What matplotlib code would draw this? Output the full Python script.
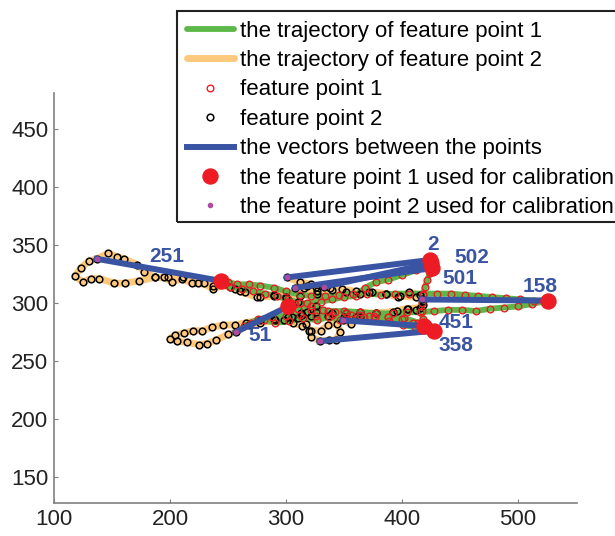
import matplotlib
matplotlib.use("Agg")
import matplotlib.pyplot as plt
from matplotlib.patches import Rectangle

plt.rcParams["font.family"] = ["Liberation Sans", "DejaVu Sans"]

# trajectory of feature point 1 (green line, red circles)
fp1_x = [424, 421, 412, 400, 388, 378, 368, 360, 350, 340, 330, 318, 308, 302,
         310, 322, 336, 350, 364, 378, 392, 404, 416, 428, 440, 452, 464, 476, 488, 500, 512, 526,
         514, 502, 490, 478, 466, 454, 442, 430, 418, 406, 394, 382, 370, 358, 346, 334, 322, 312,
         300, 290, 278, 268, 258, 250, 244,
         252, 262, 272, 282, 292, 302, 312, 322, 332, 342, 352, 364, 376, 388, 400, 410, 420, 428,
         420, 411, 401, 389, 377, 367, 357, 347, 337, 327, 315, 303, 291, 281, 270, 264,
         276, 288, 300, 312, 326, 340, 356, 372, 388, 402, 414, 419,
         418, 417, 417, 418, 420, 422, 424, 426, 425]
fp1_y = [337, 331, 328, 324, 320, 318, 313, 306, 305, 303, 301, 300, 299, 297,
         295, 294, 293, 293, 292, 291, 291, 292, 292, 293, 294, 294, 293, 295, 296, 297, 299, 302,
         302, 303, 304, 305, 306, 307, 308, 308, 308, 308, 308, 307, 308, 308, 307, 306, 306, 307,
         310, 313, 315, 316, 316, 318, 319,
         314, 312, 310, 308, 306, 303, 300, 297, 294, 292, 291, 290, 289, 288, 286, 283, 279, 276,
         278, 279, 281, 284, 287, 288, 286, 285, 288, 285, 287, 284, 283, 285, 283, 280,
         286, 288, 289, 290, 289, 290, 290, 289, 288, 287, 283, 280,
         286, 293, 300, 307, 314, 320, 326, 330, 334]

# trajectory of feature point 2 (orange line, black circles)
fp2_x = [301, 312, 322, 327, 326, 318, 305, 291, 278, 268, 257,
         250, 240, 232, 225, 215, 206, 200, 204, 212, 220, 228, 236, 246, 256, 266, 278, 290, 302,
         314, 326, 340, 352, 364, 378, 392, 404, 412, 418, 417,
         416, 406, 397, 386, 374, 364, 352, 340, 327, 312, 300, 290, 278, 265, 256, 247, 237, 229,
         219, 210, 202, 195, 187, 178, 172, 160, 154, 147, 137,
         130, 123, 118, 125, 132, 139, 152, 161, 173, 187, 198, 211, 224, 237, 252, 260, 275, 290,
         300, 310, 313, 317, 320, 322, 329,
         337, 343, 347, 344, 336, 330, 322, 314, 306, 298, 310, 322, 336, 350, 360, 352, 349,
         356, 364, 378, 396, 405, 416, 418, 412, 398, 386, 372, 360, 348, 338, 326, 316, 308, 318, 333]
fp2_y = [322, 318, 316, 308, 297, 292, 288, 285, 283, 281, 275,
         273, 268, 265, 264, 266, 267, 269, 272, 274, 276, 276, 279, 281, 281, 283, 285, 286, 288,
         290, 292, 291, 291, 292, 291, 292, 295, 294, 298, 303,
         307, 309, 305, 308, 309, 308, 309, 311, 310, 306, 305, 307, 305, 309, 312, 316, 312, 317,
         317, 321, 318, 322, 322, 327, 333, 338, 340, 343, 338,
         336, 330, 323, 318, 321, 321, 317, 317, 319, 322, 322, 322, 317, 315, 314, 310, 305, 306,
         304, 301, 291, 282, 276, 271, 267,
         268, 268, 275, 282, 281, 276, 276, 280, 283, 285, 287, 289, 289, 288, 288, 286, 285,
         282, 288, 291, 293, 295, 296, 302, 305, 306, 308, 309, 310, 312, 313, 314, 313, 313, 315, 314]

# frames used for calibration
calib_frames = ["2", "51", "158", "251", "358", "451", "501", "502"]
calib1_x = [424, 302, 526, 244, 428, 419, 426, 425]
calib1_y = [337, 297, 302, 319, 276, 280, 330, 334]
calib2_x = [301, 257, 417, 137, 329, 349, 308, 333]
calib2_y = [322, 275, 303, 338, 267, 285, 313, 314]
label_x = [427, 278, 519, 197, 447, 447, 450, 460]
label_y = [350, 272, 314, 340, 263, 283, 321, 339]

GREEN = "#5cb848"
ORANGE = "#fec97c"
BLUE = "#3a54a4"
RED = "#ed1c24"
PURPLE = "#b04aa0"

fig = plt.figure(figsize=(6.15, 5.36), dpi=100)
ax = fig.add_axes([0.0878, 0.0616, 0.8504, 0.7649])

ax.plot(fp2_x, fp2_y, color=ORANGE, lw=5, solid_capstyle="round", zorder=1,
        label="the trajectory of feature point 2")
ax.plot(fp1_x, fp1_y, color=GREEN, lw=4.2, solid_capstyle="round", zorder=2,
        label="the trajectory of feature point 1")
ax.plot(fp2_x, fp2_y, ls="none", marker="o", ms=4.8, mfc="none", mec="black", mew=1.1, zorder=3,
        label="feature point 2")
ax.plot(fp1_x, fp1_y, ls="none", marker="o", ms=4.8, mfc="none", mec=RED, mew=1.0, zorder=3,
        label="feature point 1")
for i in range(len(calib_frames)):
    ax.plot([calib2_x[i], calib1_x[i]], [calib2_y[i], calib1_y[i]], color=BLUE, lw=4.3,
            zorder=4, label="the vectors between the points" if i == 0 else None)
    ax.text(label_x[i], label_y[i], calib_frames[i], color=BLUE, fontsize=15,
            fontweight="bold", ha="center", va="center", zorder=6)
ax.plot(calib1_x, calib1_y, ls="none", marker="o", ms=10.8, color=RED, zorder=5,
        label="the feature point 1 used for calibration")
ax.plot(calib2_x, calib2_y, ls="none", marker="o", ms=3, color=PURPLE, zorder=5,
        label="the feature point 2 used for calibration")

ax.set_xlim(100, 551)
ax.set_ylim(127.5, 481)
ax.set_xticks([100, 200, 300, 400, 500])
ax.set_yticks([150, 200, 250, 300, 350, 400, 450])
ax.spines["top"].set_visible(False)
ax.spines["right"].set_visible(False)
for s in ("left", "bottom"):
    ax.spines[s].set_color("#808080")
    ax.spines[s].set_linewidth(1.2)
ax.tick_params(direction="in", length=3, color="#808080", labelsize=16,
               labelcolor="#222222", pad=4)

handles, labels = ax.get_legend_handles_labels()
order = ["the trajectory of feature point 1", "the trajectory of feature point 2",
         "feature point 1", "feature point 2", "the vectors between the points",
         "the feature point 1 used for calibration", "the feature point 2 used for calibration"]
hmap = dict(zip(labels, handles))
leg = fig.legend([hmap[k] for k in order], order, loc="upper left",
                 bbox_to_anchor=(187 / 615, 1 - 20.5 / 536), bbox_transform=fig.transFigure,
                 fontsize=16, frameon=False, borderaxespad=0, borderpad=0,
                 handlelength=2.1, handletextpad=0.3, labelspacing=0.38)
# legend box runs past the right edge of the figure, as in the original
fig.patches.append(Rectangle((177 / 615, 1 - 222 / 536), 460 / 615, 211 / 536,
                             transform=fig.transFigure, fill=False,
                             edgecolor="#222222", lw=1.5))

fig.savefig("out.png", dpi=100)
